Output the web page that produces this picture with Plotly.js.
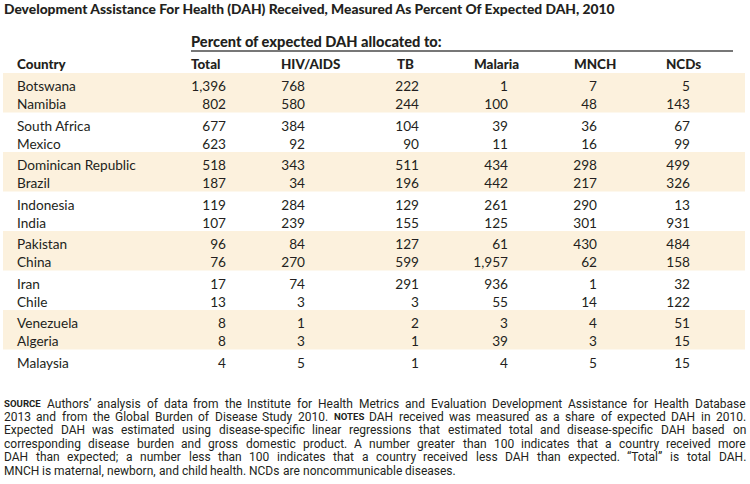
<!DOCTYPE html>
<html><head><meta charset="utf-8">
<script src="https://cdn.plot.ly/plotly-3.0.1.min.js"></script>
<style>body{margin:0;background:#fff}#chart{width:750px;height:484px}</style>
</head><body><div id="chart"></div>
<script>
// ---------- DATA ----------
const titleText = 'Development Assistance For Health (DAH) Received, Measured As Percent Of Expected DAH, 2010';
const spannerLabel = 'Percent of expected DAH allocated to:';
const rowHeader = 'Country';
const columnLabels = ['Total', 'HIV/AIDS', 'TB', 'Malaria', 'MNCH', 'NCDs'];
const countries = ['Botswana', 'Namibia', 'South Africa', 'Mexico', 'Dominican Republic', 'Brazil',
  'Indonesia', 'India', 'Pakistan', 'China', 'Iran', 'Chile', 'Venezuela', 'Algeria', 'Malaysia'];
const total   = [1396, 802, 677, 623, 518, 187, 119, 107, 96, 76, 17, 13, 8, 8, 4];
const hivAids = [768, 580, 384, 92, 343, 34, 284, 239, 84, 270, 74, 3, 1, 3, 5];
const tb      = [222, 244, 104, 90, 511, 196, 129, 155, 127, 599, 291, 3, 2, 1, 1];
const malaria = [1, 100, 39, 11, 434, 442, 261, 125, 61, 1957, 936, 55, 3, 39, 4];
const mnch    = [7, 48, 36, 16, 298, 217, 290, 301, 430, 62, 1, 14, 4, 3, 5];
const ncds    = [5, 143, 67, 99, 499, 326, 13, 931, 484, 158, 32, 122, 51, 15, 15];
const noteLines = [
  '[SOURCE] Authors’ analysis of data from the Institute for Health Metrics and Evaluation Development Assistance for Health Database',
  '2013 and from the Global Burden of Disease Study 2010. [NOTES] DAH received was measured as a share of expected DAH in 2010.',
  'Expected DAH was estimated using disease-specific linear regressions that estimated total and disease-specific DAH based on',
  'corresponding disease burden and gross domestic product. A number greater than 100 indicates that a country received more',
  'DAH than expected; a number less than 100 indicates that a country received less DAH than expected. “Total” is total DAH.',
  'MNCH is maternal, newborn, and child health. NCDs are noncommunicable diseases.'
];
const seriesCols = [total, hivAids, tb, malaria, mnch, ncds];

// ---------- LAYOUT / STYLE ----------
const FAM = 'Lato';
const NOTE_FAM = 'Roboto';
const HEAVY = '900';
const INK = '#231f20';
const BAND = '#fcf1dd';
const ctx = document.createElement('canvas').getContext('2d');
function textW(t, size, weight, fam) { ctx.font = weight + ' ' + size + 'px ' + (fam || FAM); return ctx.measureText(t).width; }
function fit(t, target, weight, fam) { return 100 * target / textW(t, 100, weight, fam); }

const titleSize = fit(titleText, 613, HEAVY);
const spanSize = fit(spannerLabel, 251, HEAVY);
const headSize = (fit('HIV/AIDS', 58, HEAVY) + fit('Country', 50, HEAVY)) / 2;
const bodySize = fit('Dominican Republic', 119, 'normal');
const NOTE_STEP = 13.4;
const noteSize = fit(noteLines[5], 452, 'normal', NOTE_FAM);
const labelSize = noteSize * 0.8;

const TABLE_TOP = 73, GROUP_H = 39.5, ROW_OFF = [15, 33];
const rowY = i => TABLE_TOP + Math.floor(i / 2) * GROUP_H + ROW_OFF[i % 2];
const colRight = [226, 305, 419, 508, 597, 690];
const headLeft = [191, 281, 397, 474, 574, 666];
const COUNTRY_X = 17;
const fmt = v => v.toLocaleString('en-US');

const traces = [];
traces.push({
  type: 'scatter', mode: 'text', x: countries.map(() => COUNTRY_X), y: countries.map((_, i) => rowY(i)),
  text: countries, textposition: 'middle right', hoverinfo: 'skip', showlegend: false,
  textfont: {family: FAM, size: bodySize, color: INK}
});
seriesCols.forEach((vals, c) => {
  traces.push({
    type: 'scatter', mode: 'text', x: vals.map(() => colRight[c]), y: vals.map((_, i) => rowY(i)),
    text: vals.map(fmt), textposition: 'middle left', hoverinfo: 'skip', showlegend: false,
    textfont: {family: FAM, size: bodySize, color: INK}
  });
});

const shapes = [];
const nGroups = Math.ceil(countries.length / 2);
for (let g = 0; g < nGroups; g++) {
  if (g % 2 === 0 && g * 2 + 1 < countries.length) {
    shapes.push({type: 'rect', xref: 'x', yref: 'y', x0: 3, x1: 745,
      y0: TABLE_TOP + g * GROUP_H, y1: TABLE_TOP + (g + 1) * GROUP_H,
      fillcolor: BAND, line: {width: 0}, layer: 'below'});
  }
}
shapes.push({type: 'line', xref: 'x', yref: 'y', x0: headLeft[0], x1: 733, y0: 51, y1: 51,
  line: {color: '#4a4a4a', width: 1.5}});

const ann = (text, x, y, size, weight, fam) => ({
  text, x, y, xref: 'x', yref: 'y', xanchor: 'left', yanchor: 'middle',
  showarrow: false, borderpad: 0, borderwidth: 0,
  font: {family: fam || FAM, size, color: INK, weight: weight || 'normal'}
});

const annotations = [];
annotations.push(ann(titleText, 4, 8, titleSize, HEAVY));
annotations.push(ann(spannerLabel, headLeft[0], 41, spanSize, HEAVY));
annotations.push(ann(rowHeader, COUNTRY_X, 64, headSize, HEAVY));
columnLabels.forEach((lab, c) => annotations.push(ann(lab, headLeft[c], 64, headSize, HEAVY)));

// footnote, justified word by word
const NOTE_X0 = 4, NOTE_X1 = 746, NOTE_Y0 = 403.5;
noteLines.forEach((line, li) => {
  const words = line.split(' ').map(w => {
    const m = w.match(/^\[(.+)\]$/);
    return m ? {t: m[1], size: labelSize, weight: 'bold'} : {t: w, size: noteSize, weight: 'normal'};
  });
  const widths = words.map(w => textW(w.t, w.size, w.weight, NOTE_FAM));
  const sum = widths.reduce((a, b) => a + b, 0);
  const last = li === noteLines.length - 1;
  const gap = last ? textW(' ', noteSize, 'normal', NOTE_FAM) : (NOTE_X1 - NOTE_X0 - sum) / (words.length - 1);
  let x = NOTE_X0;
  const y = NOTE_Y0 + li * NOTE_STEP;
  words.forEach((w, k) => {
    annotations.push(ann(w.t, x, y, w.size, w.weight, NOTE_FAM));
    x += widths[k] + gap;
  });
});

const layout = {
  width: 750, height: 484, margin: {l: 0, r: 0, t: 0, b: 0},
  paper_bgcolor: '#fff', plot_bgcolor: '#fff',
  xaxis: {range: [0, 750], visible: false, fixedrange: true},
  yaxis: {range: [484, 0], visible: false, fixedrange: true},
  shapes, annotations, showlegend: false
};
Plotly.newPlot('chart', traces, layout, {staticPlot: true, displayModeBar: false});
</script></body></html>
